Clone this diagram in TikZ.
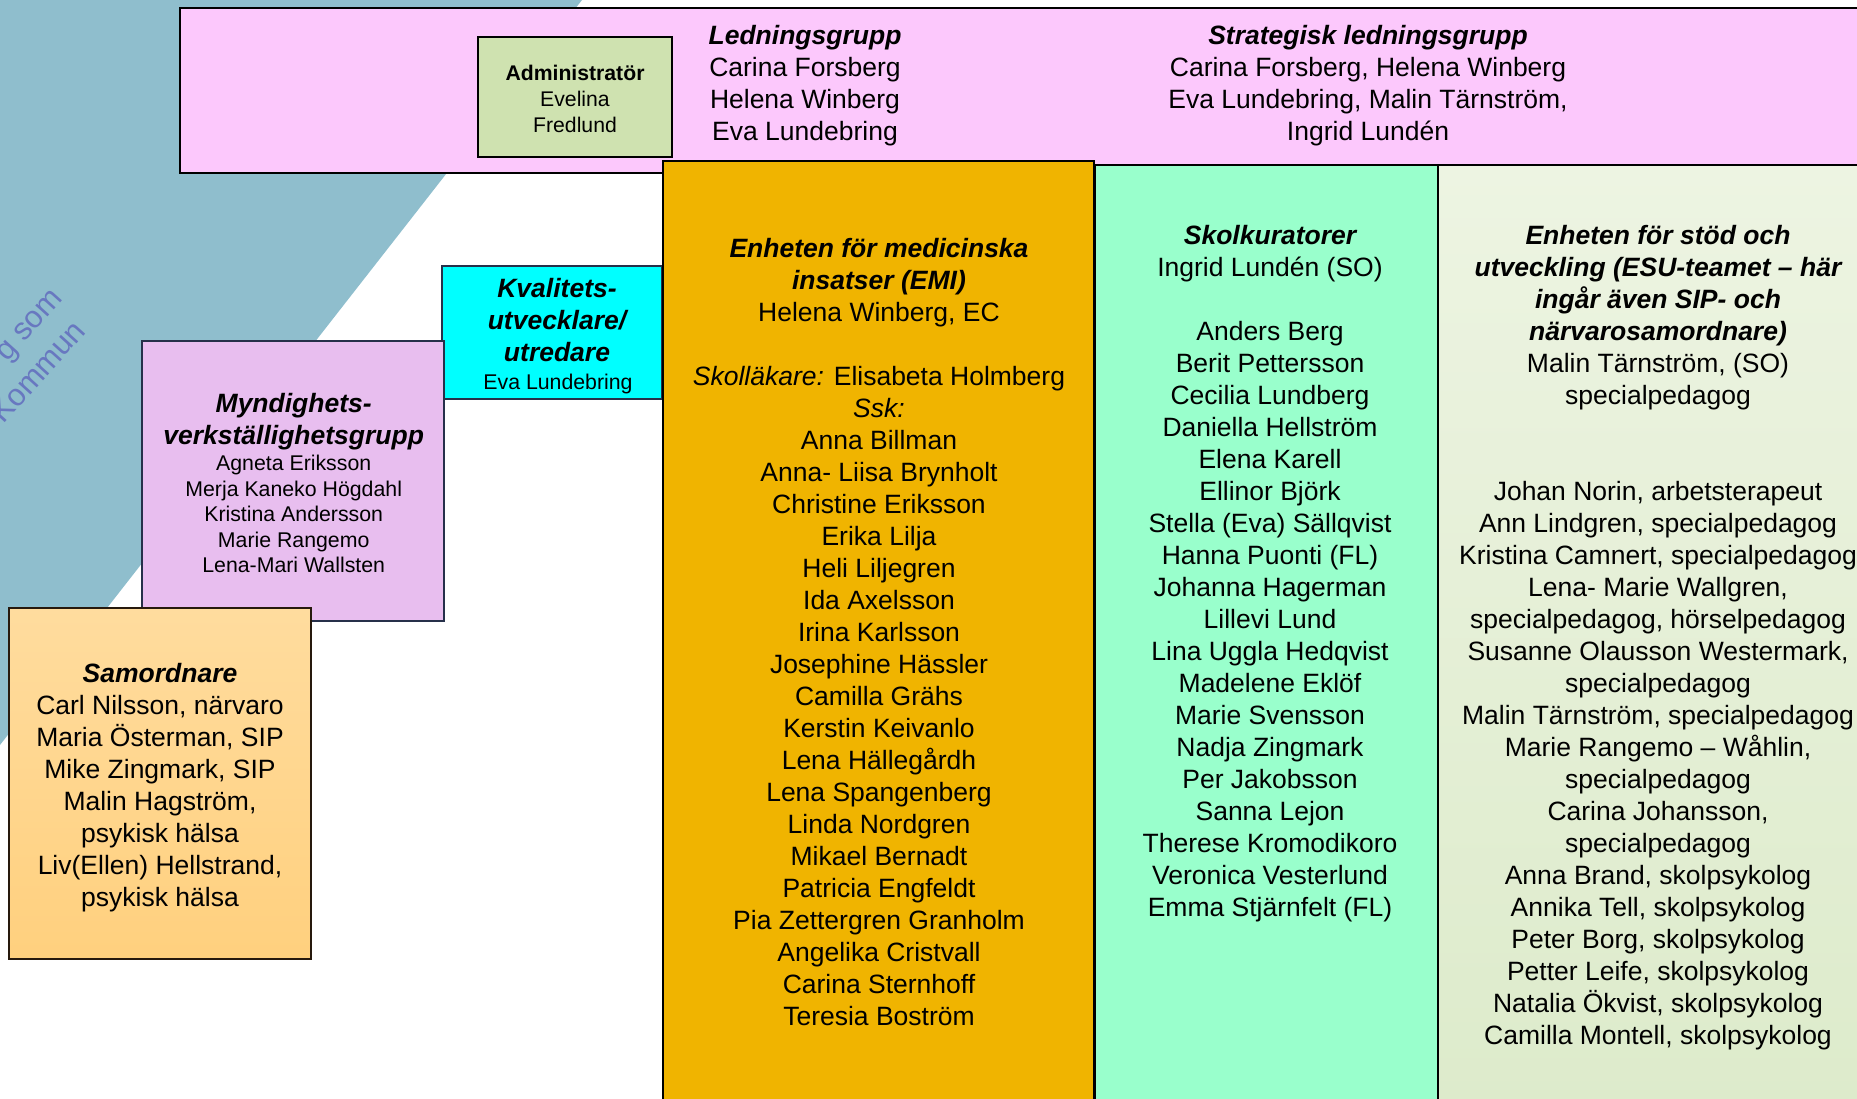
\documentclass[tikz,border=0pt]{standalone}
\usepackage{fontspec}
\setmainfont{Liberation Sans}
\newcommand\fMain{\fontsize{13.25pt}{16pt}\selectfont}
\newcommand\fSmall{\fontsize{10.65pt}{12.75pt}\selectfont}
\newcommand\fAdm{\fontsize{10.6pt}{13pt}\selectfont}
\newcommand\fRot{\fontsize{15.5pt}{19pt}\selectfont}
\definecolor{bgblue}{HTML}{8FBECD}
\definecolor{pinkbox}{HTML}{FCC8FC}
\definecolor{adminG}{HTML}{CFE2B0}
\definecolor{kvalC}{HTML}{00FFFF}
\definecolor{myndP}{HTML}{E8BEEF}
\definecolor{samoT}{HTML}{FFDC9E}
\definecolor{samoB}{HTML}{FFD07E}
\definecolor{emiO}{HTML}{F0B400}
\definecolor{kurG}{HTML}{99FFCC}
\definecolor{esuT}{HTML}{EDF4E2}
\definecolor{esuB}{HTML}{DDEBCB}
\definecolor{txtblue}{HTML}{6878C0}
\definecolor{navyline}{HTML}{26304A}
\begin{document}
\begin{tikzpicture}[x=0.5pt,y=-0.5pt,
  frame/.style={line width=1pt},
  txt/.style={inner sep=0pt,align=center,anchor=north,font=\fMain},
  stxt/.style={inner sep=0pt,align=center,anchor=north,font=\fSmall},
  bi/.style={font=\fMain\bfseries\itshape},
  rottxt/.style={rotate=48,anchor=base east,inner sep=0pt,text=txtblue,font=\fRot}]
\useasboundingbox (0,0) rectangle (1857,1098);
% background
\fill[bgblue] (0,0) -- (582,0) -- (0,745) -- cycle;
\node[rottxt] (rotA) at (64,299) {g som};
\node[rottxt] (rotB) at (87,332) {Kommun};
% top pink band
\draw[fill=pinkbox,line width=1.2pt] (180,8) rectangle (1870,173);
\draw[frame,fill=adminG,line width=1.3pt] (478,37) rectangle (672,157);
% left boxes
\draw[frame,fill=kvalC,draw=navyline] (442,266) rectangle (662,399);
\draw[frame,fill=myndP,draw=navyline] (142,341) rectangle (444,621);
\draw[frame,top color=samoT,bottom color=samoB,draw=black!80!brown] (9,608) rectangle (311,959);
% columns
\draw[frame,fill=emiO,line width=1.2pt] (663,161) rectangle (1094,1110);
\draw[frame,fill=kurG] (1095,165) rectangle (1438,1110);
\draw[frame,top color=esuT,bottom color=esuB] (1438,165) rectangle (1870,1110);

% texts
\node[txt] (led) at (805,24.5) {{\bfseries\itshape Ledningsgrupp}\\Carina Forsberg\\Helena Winberg\\Eva Lundebring};
\node[txt] (strat) at (1368,24.5) {{\bfseries\itshape Strategisk ledningsgrupp}\\Carina Forsberg, Helena Winberg\\Eva Lundebring, Malin Tärnström,\\Ingrid Lundén};
\node[txt,font=\fAdm] (adm) at (575,64.3) {{\bfseries Administratör}\\Evelina\\Fredlund};

\node[txt,bi] (kvalT) at (557,278) {Kvalitets-\\utvecklare/\\utredare};
\node[stxt] (kvalN) at (558,373.4) {Eva Lundebring};

\node[txt,bi] (myndT) at (293.7,392.9) {Myndighets-\\verkställighetsgrupp};
\node[stxt] (myndN) at (293.7,455) {Agneta Eriksson\\Merja Kaneko Högdahl\\Kristina Andersson\\Marie Rangemo\\Lena-Mari Wallsten};

\node[txt] (samo) at (160,662.9) {{\bfseries\itshape Samordnare}\\Carl Nilsson, närvaro\\Maria Österman, SIP\\Mike Zingmark, SIP\\Malin Hagström,\\psykisk hälsa\\Liv(Ellen) Hellstrand,\\psykisk hälsa};

\node[txt] (emi) at (879,237.7) {{\bfseries\itshape Enheten för medicinska}\\{\bfseries\itshape insatser (EMI)}\\Helena Winberg, EC\\~\\{\itshape Skolläkare:} Elisabeta Holmberg\\{\itshape Ssk:}\\Anna Billman\\Anna- Liisa Brynholt\\Christine Eriksson\\Erika Lilja\\Heli Liljegren\\Ida Axelsson\\Irina Karlsson\\Josephine Hässler\\Camilla Grähs\\Kerstin Keivanlo\\Lena Hällegårdh\\Lena Spangenberg\\Linda Nordgren\\Mikael Bernadt\\Patricia Engfeldt\\Pia Zettergren Granholm\\Angelika Cristvall\\Carina Sternhoff\\Teresia Boström};

\node[txt] (kur) at (1270,224.7) {{\bfseries\itshape Skolkuratorer}\\Ingrid Lundén (SO)\\~\\Anders Berg\\Berit Pettersson\\Cecilia Lundberg\\Daniella Hellström\\Elena Karell\\Ellinor Björk\\Stella (Eva) Sällqvist\\Hanna Puonti (FL)\\Johanna Hagerman\\Lillevi Lund\\Lina Uggla Hedqvist\\Madelene Eklöf\\Marie Svensson\\Nadja Zingmark\\Per Jakobsson\\Sanna Lejon\\Therese Kromodikoro\\Veronica Vesterlund\\Emma Stjärnfelt (FL)};

\node[txt] (esu) at (1658,224.7) {{\bfseries\itshape Enheten för stöd och}\\{\bfseries\itshape utveckling (ESU-teamet – här}\\{\bfseries\itshape ingår även SIP- och}\\{\bfseries\itshape närvarosamordnare)}\\Malin Tärnström, (SO)\\specialpedagog\\~\\~\\Johan Norin, arbetsterapeut\\Ann Lindgren, specialpedagog\\Kristina Camnert, specialpedagog\\Lena- Marie Wallgren,\\specialpedagog, hörselpedagog\\Susanne Olausson Westermark,\\specialpedagog\\Malin Tärnström, specialpedagog\\Marie Rangemo – Wåhlin,\\specialpedagog\\Carina Johansson,\\specialpedagog\\Anna Brand, skolpsykolog\\Annika Tell, skolpsykolog\\Peter Borg, skolpsykolog\\Petter Leife, skolpsykolog\\Natalia Ökvist, skolpsykolog\\Camilla Montell, skolpsykolog};
\end{tikzpicture}
\end{document}
